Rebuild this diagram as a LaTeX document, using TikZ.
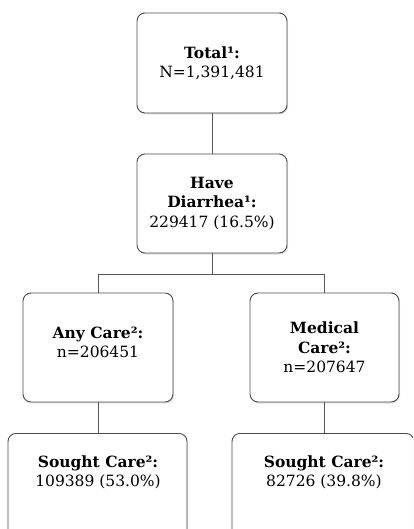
\documentclass[tikz,border=0pt]{standalone}
\usepackage{fontspec}
\setmainfont{DejaVu Serif}
\usetikzlibrary{shadows}
\definecolor{edge}{HTML}{4A4A4A}
\definecolor{wire}{HTML}{555555}
\tikzset{
  box/.style={draw=edge, line width=0.9pt, fill=white, rounded corners=8pt,
    inner sep=0pt, align=center, font=\fontsize{15.5}{19.5}\selectfont,
    drop shadow={opacity=0.25, shadow xshift=1pt, shadow yshift=-1.5pt}},
  txt/.style={inner sep=0pt, align=center, font=\fontsize{15.5}{19.5}\selectfont},
  wire/.style={draw=wire, line width=0.9pt}
}
\begin{document}
\begin{tikzpicture}[x=1pt,y=-1pt]
\useasboundingbox (0,0) rectangle (413,529);
\clip (0,0) rectangle (413,529);
\fill[white] (0,0) rectangle (413,529);
\node[box, minimum width=150pt, minimum height=100pt] (top) at (212,63) {\textbf{Total¹:}\\N=1,391,481};
\node[box, minimum width=150pt, minimum height=99pt] (mid) at (212,203.5) {\textbf{Have}\\\textbf{Diarrhea¹:}\\229417 (16.5\%)};
\node[box, minimum width=150pt, minimum height=109pt] (l3) at (98,347.5) {};
\node[txt] (l3t) at (98,342.5) {\textbf{Any Care²:}\\n=206451};
\node[box, minimum width=149pt, minimum height=109pt] (r3) at (324.5,347.5) {\textbf{Medical}\\\textbf{Care²:}\\n=207647};
\node[box, anchor=north, minimum width=179pt, minimum height=110pt] (l4) at (97.5,433) {};
\node[box, anchor=north, minimum width=182pt, minimum height=110pt] (r4) at (323,433) {};
\node[txt] (l4t) at (98,472.5) {\textbf{Sought Care²:}\\109389 (53.0\%)};
\node[txt] (r4t) at (324,472.5) {\textbf{Sought Care²:}\\82726 (39.8\%)};
\coordinate (split) at (212,274);
\draw[wire] (top.south) -- (mid.north);
\draw[wire] (mid.south) -- (split);
\draw[wire] (split) -| (l3.north);
\draw[wire] (split) -| (r3.north);
\draw[wire] (l3.south) -- (l3.south |- l4.north);
\draw[wire] (r3.south) -- (r3.south |- r4.north);
\end{tikzpicture}
\end{document}
